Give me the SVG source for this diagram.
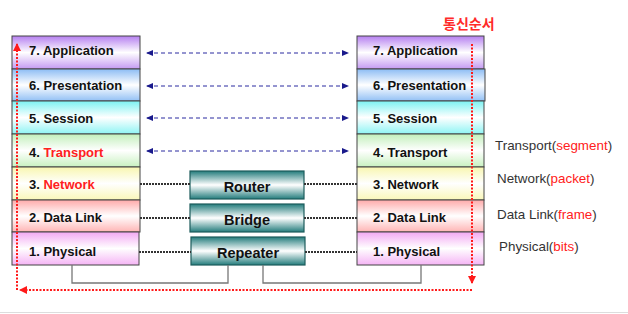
<svg xmlns="http://www.w3.org/2000/svg" width="628" height="314" viewBox="0 0 628 314">
<defs>
<linearGradient id="g7" x1="0" y1="0" x2="0" y2="1"><stop offset="0" stop-color="#b57ff0"/><stop offset="0.5" stop-color="#ffffff"/><stop offset="1" stop-color="#c49af2"/></linearGradient>
<linearGradient id="g6" x1="0" y1="0" x2="0" y2="1"><stop offset="0" stop-color="#8cbcf4"/><stop offset="0.5" stop-color="#ffffff"/><stop offset="1" stop-color="#92c0f5"/></linearGradient>
<linearGradient id="g5" x1="0" y1="0" x2="0" y2="1"><stop offset="0" stop-color="#7cf2f2"/><stop offset="0.5" stop-color="#ffffff"/><stop offset="1" stop-color="#8ef4f4"/></linearGradient>
<linearGradient id="g4" x1="0" y1="0" x2="0" y2="1"><stop offset="0" stop-color="#c2efbb"/><stop offset="0.5" stop-color="#ffffff"/><stop offset="1" stop-color="#c8f1c0"/></linearGradient>
<linearGradient id="g3" x1="0" y1="0" x2="0" y2="1"><stop offset="0" stop-color="#f8f6b0"/><stop offset="0.5" stop-color="#ffffff"/><stop offset="1" stop-color="#f9f7b8"/></linearGradient>
<linearGradient id="g2" x1="0" y1="0" x2="0" y2="1"><stop offset="0" stop-color="#ffaaaa"/><stop offset="0.5" stop-color="#ffffff"/><stop offset="1" stop-color="#ffb4b4"/></linearGradient>
<linearGradient id="g1" x1="0" y1="0" x2="0" y2="1"><stop offset="0" stop-color="#f3a8f3"/><stop offset="0.5" stop-color="#ffffff"/><stop offset="1" stop-color="#f5b4f5"/></linearGradient>
<linearGradient id="gd" x1="0" y1="0" x2="0" y2="1"><stop offset="0" stop-color="#237c7c"/><stop offset="0.5" stop-color="#ffffff"/><stop offset="1" stop-color="#237c7c"/></linearGradient>
<marker id="ab" viewBox="0 0 7 6" refX="6" refY="3" markerWidth="7" markerHeight="6" orient="auto-start-reverse" markerUnits="userSpaceOnUse"><path d="M0,0 L7,3 L0,6 Z" fill="#1a1a8c"/></marker>
<marker id="ar" viewBox="0 0 8 8" refX="7" refY="4" markerWidth="8" markerHeight="8" orient="auto" markerUnits="userSpaceOnUse"><path d="M0,0 L8,4 L0,8 Z" fill="#ff1a1a"/></marker>
</defs>
<style>
.layer{stroke:#444;stroke-width:1}
.lt{font-family:"Liberation Sans",Arial,sans-serif;font-size:13px;font-weight:bold;fill:#111}
.red{fill:#ff2020}
.dev{fill:url(#gd);stroke:#1d5c5c;stroke-width:1.2}
.dt{font-family:"Liberation Sans",Arial,sans-serif;font-size:14.5px;font-weight:bold;fill:#111;text-anchor:middle}
.side{font-family:"Liberation Sans",Arial,sans-serif;font-size:13.4px;fill:#333}
.blue{stroke:#2a2aa0;stroke-width:1;stroke-dasharray:4 3;fill:none;marker-start:url(#ab);marker-end:url(#ab)}
.dot{stroke:#333;stroke-width:2;stroke-dasharray:2 1;fill:none}
.gray{stroke:#777;stroke-width:1.3;fill:none}
.rd{stroke:#ff1a1a;stroke-width:2;stroke-dasharray:2 1.5;fill:none;marker-end:url(#ar)}
</style>
<rect width="628" height="314" fill="#ffffff"/>
<line x1="0" y1="312.5" x2="628" y2="312.5" stroke="#dddddd" stroke-width="1"/>

<g id="left-stack">
<g id="l7"><rect class="layer" x="12" y="36" width="128" height="33" fill="url(#g7)"/><text class="lt" x="29" y="55">7. Application</text></g>
<g id="l6"><rect class="layer" x="12" y="69" width="128" height="32" fill="url(#g6)"/><text class="lt" x="29" y="90">6. Presentation</text></g>
<g id="l5"><rect class="layer" x="12" y="101" width="128" height="33" fill="url(#g5)"/><text class="lt" x="29" y="123">5. Session</text></g>
<g id="l4"><rect class="layer" x="12" y="134" width="128" height="33" fill="url(#g4)"/><text class="lt" x="29" y="157">4. <tspan class="red">Transport</tspan></text></g>
<g id="l3"><rect class="layer" x="12" y="167" width="128" height="33" fill="url(#g3)"/><text class="lt" x="29" y="189">3. <tspan class="red">Network</tspan></text></g>
<g id="l2"><rect class="layer" x="12" y="200" width="128" height="32" fill="url(#g2)"/><text class="lt" x="29" y="222">2. Data Link</text></g>
<g id="l1"><rect class="layer" x="12" y="232" width="127" height="33" fill="url(#g1)"/><text class="lt" x="29" y="256">1. Physical</text></g>
</g>

<g id="right-stack">
<g id="r7"><rect class="layer" x="357" y="36" width="127" height="33" fill="url(#g7)"/><text class="lt" x="373" y="55">7. Application</text></g>
<g id="r6"><rect class="layer" x="357" y="69" width="128" height="32" fill="url(#g6)"/><text class="lt" x="373" y="90">6. Presentation</text></g>
<g id="r5"><rect class="layer" x="357" y="101" width="127" height="33" fill="url(#g5)"/><text class="lt" x="373" y="123">5. Session</text></g>
<g id="r4"><rect class="layer" x="357" y="134" width="127" height="33" fill="url(#g4)"/><text class="lt" x="373" y="157">4. Transport</text></g>
<g id="r3"><rect class="layer" x="357" y="167" width="127" height="33" fill="url(#g3)"/><text class="lt" x="373" y="189">3. Network</text></g>
<g id="r2"><rect class="layer" x="357" y="200" width="127" height="32" fill="url(#g2)"/><text class="lt" x="373" y="222">2. Data Link</text></g>
<g id="r1"><rect class="layer" x="357" y="232" width="127" height="33" fill="url(#g1)"/><text class="lt" x="373" y="256">1. Physical</text></g>
</g>

<g id="router"><rect class="dev" x="190" y="171" width="114" height="28"/><text class="dt" x="247" y="192">Router</text></g>
<g id="bridge"><rect class="dev" x="190" y="204" width="114" height="28"/><text class="dt" x="247" y="225">Bridge</text></g>
<g id="repeater"><rect class="dev" x="191" y="237" width="114" height="28"/><text class="dt" x="248" y="258">Repeater</text></g>

<g id="connectors">
<line class="blue" x1="147" y1="53" x2="348" y2="53"/>
<line class="blue" x1="147" y1="86" x2="348" y2="86"/>
<line class="blue" x1="147" y1="118" x2="348" y2="118"/>
<line class="blue" x1="147" y1="151" x2="348" y2="151"/>
<line class="dot" x1="140" y1="184" x2="190" y2="184"/>
<line class="dot" x1="304" y1="184" x2="357" y2="184"/>
<line class="dot" x1="140" y1="218" x2="190" y2="218"/>
<line class="dot" x1="304" y1="218" x2="357" y2="218"/>
<line class="dot" x1="139" y1="252" x2="191" y2="252"/>
<line class="dot" x1="305" y1="252" x2="357" y2="252"/>
<path class="gray" d="M72 265 V283 H228 V265"/>
<path class="gray" d="M263 265 V283 H421 V265"/>
<path class="rd" d="M472 44 V283"/>
<path class="rd" d="M472 290 H20"/>
<path class="rd" d="M17 290 V44"/>
</g>

<g id="labels">
<text x="443" y="29" font-family="'Noto Sans CJK KR',sans-serif" font-size="14" font-weight="bold" fill="#ff2a2a">통신순서</text>
<text class="side" x="495" y="150">Transport(<tspan class="red">segment</tspan>)</text>
<text class="side" x="497" y="183">Network(<tspan class="red">packet</tspan>)</text>
<text class="side" x="497" y="219">Data Link(<tspan class="red">frame</tspan>)</text>
<text class="side" x="499" y="251">Physical(<tspan class="red">bits</tspan>)</text>
</g>
</svg>
